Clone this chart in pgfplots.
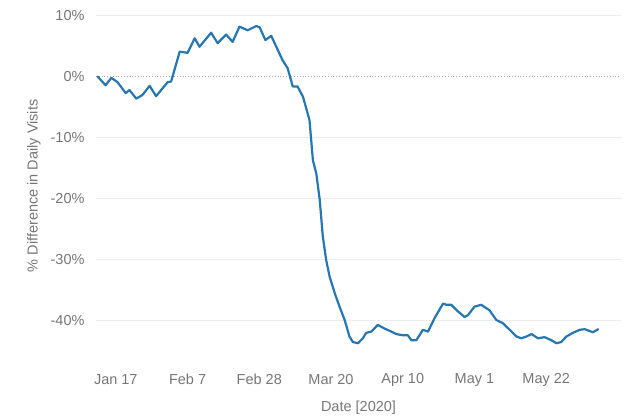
\documentclass[border=0pt]{standalone}
\usepackage{fontspec}
\setmainfont{Liberation Sans}
\usepackage{pgfplots}
\pgfplotsset{compat=1.18}
\usepackage{pgfplotstable}
\definecolor{lineblue}{RGB}{38,118,178}
\definecolor{txt}{RGB}{118,118,118}
\definecolor{grd}{RGB}{236,236,236}
\pgfplotstableread{
day val
10.7 -0.1
13.0 -1.5
14.7 -0.3
16.5 -1.0
18.9 -2.8
20.0 -2.3
22.0 -3.7
23.8 -3.1
25.9 -1.6
27.8 -3.3
29.7 -2.0
31.2 -1.0
32.2 -0.9
34.7 4.0
37.0 3.8
39.1 6.2
40.5 4.8
43.9 7.1
45.8 5.4
48.3 6.8
50.2 5.6
52.2 8.1
54.6 7.5
57.1 8.2
58.1 8.0
59.8 5.9
61.5 6.6
64.8 2.6
66.3 1.3
67.8 -1.7
69.2 -1.7
70.8 -3.4
72.7 -7.2
73.7 -13.8
74.7 -16.0
75.7 -20.3
76.6 -26.3
77.6 -30.2
78.6 -32.9
80.1 -35.6
81.5 -37.8
83.0 -40.0
84.4 -42.7
85.4 -43.6
86.9 -43.8
88.3 -43.0
89.3 -42.1
90.8 -41.9
92.7 -40.8
94.7 -41.4
96.7 -41.9
98.1 -42.3
100.1 -42.5
101.5 -42.5
102.5 -43.3
104.0 -43.3
105.9 -41.6
107.4 -41.9
109.3 -39.7
111.8 -37.3
112.8 -37.5
114.2 -37.5
116.2 -38.6
118.1 -39.5
119.1 -39.2
121.0 -37.8
123.0 -37.5
125.4 -38.4
127.4 -40.0
129.3 -40.5
131.3 -41.6
133.3 -42.7
134.7 -43.0
136.2 -42.7
137.7 -42.3
139.6 -43.0
141.5 -42.8
143.5 -43.3
145.0 -43.8
146.4 -43.6
147.9 -42.7
149.8 -42.1
151.8 -41.6
153.3 -41.5
154.7 -41.8
155.7 -42.0
157.2 -41.5
}\visits
\begin{document}
\begin{tikzpicture}
\path[use as bounding box] (0,0) rectangle (629bp,419bp);
\begin{axis}[
  at={(96bp,59.3bp)}, anchor=south west,
  scale only axis, width=525bp, height=347.7bp,
  xmin=10.2, xmax=163.9, ymin=-46.5, ymax=10.5,
  axis line style={draw=none}, major tick length=0pt, tick style={draw=none},
  xtick={16,37,58,79,100,121,142},
  xticklabels={Jan 17,Feb 7,Feb 28,Mar 20,Apr 10,May 1,May 22},
  ytick={-40,-30,-20,-10,10},
  extra y ticks={0},
  extra y tick style={grid=major, grid style={black!35, dotted, line width=1bp}},
  yticklabel={\pgfmathprintnumber{\tick}\%},
  /pgf/number format/assume math mode=true,
  ymajorgrids, grid style={grd, line width=0.8bp},
  tick label style={font=\fontsize{14.5bp}{17bp}\selectfont, text=txt},
  yticklabel style={anchor=east, xshift=-8bp},
  xticklabel style={anchor=center, yshift=-20bp},
  xlabel={Date [2020]}, ylabel={\% Difference in Daily Visits},
  every axis x label/.style={at={(rel axis cs:0.5,0)}, anchor=center, yshift=-48.3bp,
    font=\fontsize{14.5bp}{17bp}\selectfont, text=txt},
  every axis y label/.style={at={(rel axis cs:0,0.5)}, xshift=-62bp, rotate=90, anchor=center,
    font=\fontsize{14.5bp}{17bp}\selectfont, text=txt},
]
\addplot[lineblue, line width=2.2bp, line join=round, line cap=round] table[x=day, y=val] {\visits};
\end{axis}
\end{tikzpicture}
\end{document}
